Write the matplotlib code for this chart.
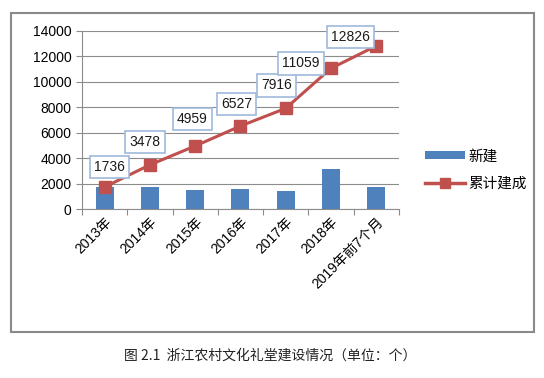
import matplotlib
matplotlib.use("Agg")
import matplotlib.pyplot as plt
from matplotlib.patches import Rectangle
from matplotlib.lines import Line2D
import numpy as np

plt.rcParams['font.family'] = ['Liberation Sans', 'Noto Sans CJK SC', 'DejaVu Sans']

categories = ["2013年", "2014年", "2015年", "2016年", "2017年", "2018年", "2019年前7个月"]
new_built = [1736, 1742, 1481, 1568, 1389, 3143, 1767]
cumulative = [1736, 3478, 4959, 6527, 7916, 11059, 12826]
y_ticks = [0, 2000, 4000, 6000, 8000, 10000, 12000, 14000]
label_offsets = [(5, 20), (-5, 23), (-3, 27), (-4, 22), (-9, 23), (-30, 5), (-26, 9)]

fig = plt.figure(figsize=(5.44, 3.78), dpi=100)
fig.patches.append(Rectangle((0.020, 0.122), 0.962, 0.844, transform=fig.transFigure,
                             fill=False, edgecolor='#8a8a8a', linewidth=1.5))

ax = fig.add_axes([0.151, 0.447, 0.582, 0.471])
x = np.arange(len(categories))
bars = ax.bar(x, new_built, width=0.4, color='#4f81bd', label='新建', zorder=2)
ax.plot(x, cumulative, color='#c0504d', linewidth=2.2, marker='s', markersize=9,
        zorder=3)

for xi, v, (dx, dy) in zip(x, cumulative, label_offsets):
    ax.annotate(str(v), (xi, v), xytext=(dx, dy), textcoords='offset pixels',
                ha='center', va='center', fontsize=10, color='#1a1a1a', zorder=4,
                bbox=dict(boxstyle='square,pad=0.3', facecolor='white',
                          edgecolor='#9fb9da', linewidth=1.2))

ax.set_xlim(-0.5, len(categories) - 0.5)
ax.set_ylim(0, 14000)
ax.set_yticks(y_ticks)
ax.set_yticklabels([str(t) for t in y_ticks], fontsize=10)
ax.yaxis.grid(True, color='#8c8c8c', linewidth=0.8, zorder=0)
ax.set_axisbelow(True)

ax.set_xticks(np.arange(len(categories) + 1) - 0.5)
ax.set_xticklabels([])
ax.set_xticks(x, minor=True)
ax.set_xticklabels(categories, minor=True, rotation=45, ha='right', va='top',
                   rotation_mode='anchor', fontsize=10)
ax.tick_params(axis='x', which='minor', length=0, pad=4)
ax.tick_params(axis='x', which='major', length=4, color='#8c8c8c')
ax.tick_params(axis='y', length=4, color='#8c8c8c')

for s in ['top', 'right']:
    ax.spines[s].set_visible(False)
ax.spines['left'].set_color('#8c8c8c')
ax.spines['bottom'].set_color('#8c8c8c')

line_handle = Line2D([], [], color='#c0504d', linewidth=2.5, marker='s', markersize=7)
ax.legend([bars, line_handle], ['新建', '累计建成'], loc='center left',
          bbox_to_anchor=(1.04, 0.22), frameon=False,
          fontsize=10.5, handlelength=2.8, handleheight=0.5, labelspacing=0.9,
          handletextpad=0.2)

fig.text(0.497, 0.058, "图 2.1  浙江农村文化礼堂建设情况（单位：个）", ha='center', va='center',
         fontsize=10, family=['Noto Sans CJK SC', 'DejaVu Sans'], color='#222222')

fig.savefig("out.png", dpi=100)
